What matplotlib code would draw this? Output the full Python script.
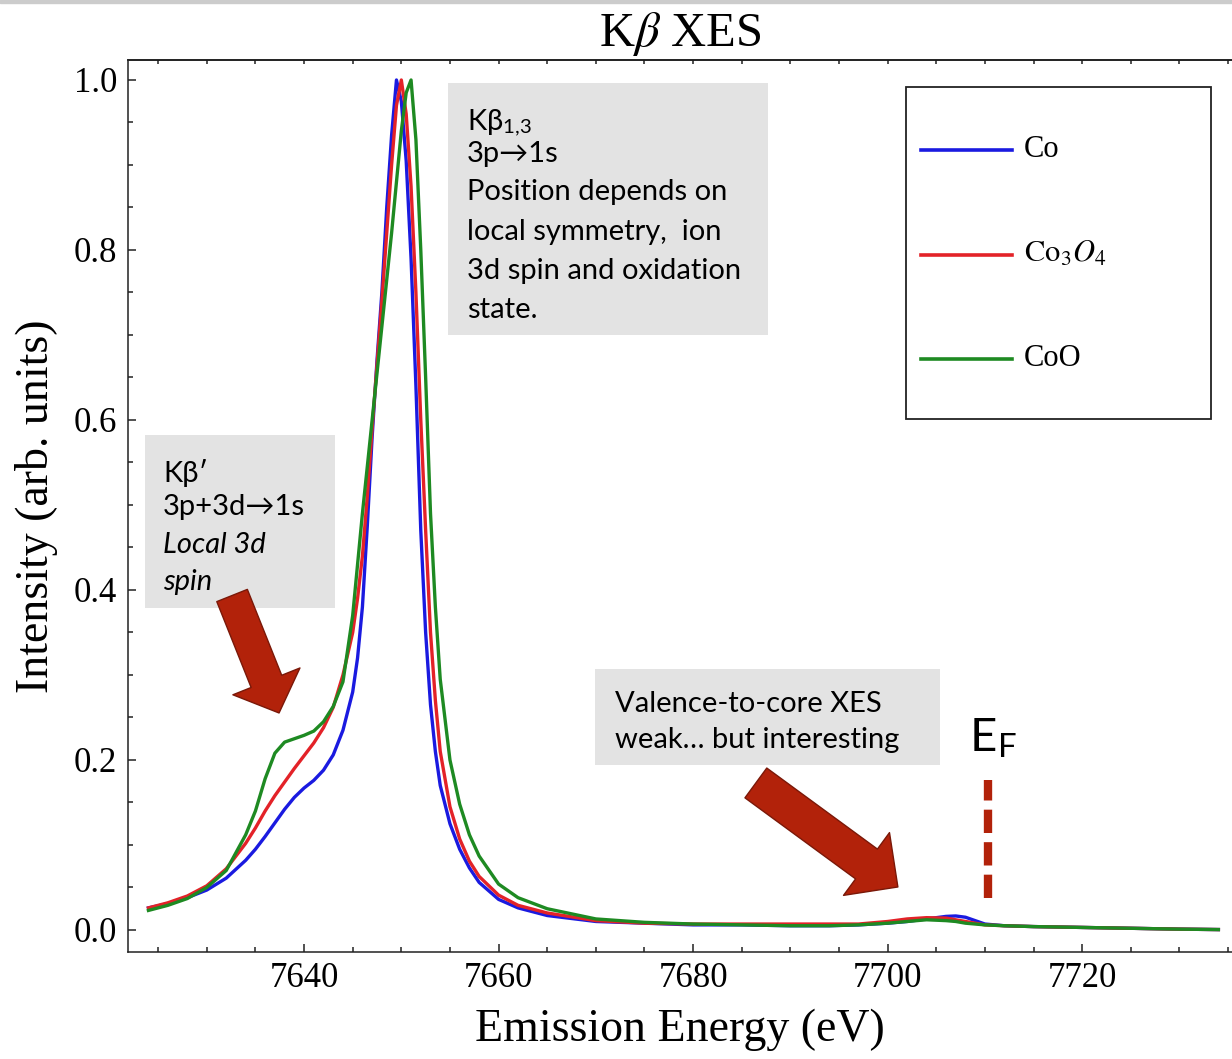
import matplotlib
matplotlib.use('Agg')
import matplotlib.pyplot as plt
from matplotlib.ticker import MultipleLocator
from matplotlib.patches import Rectangle

plt.rcParams['font.family'] = 'Liberation Serif'
plt.rcParams['mathtext.fontset'] = 'stix'
SANS = ['Lato', 'Noto Sans', 'DejaVu Sans']

# emission energy grid (eV) and normalised intensities
energy = [7624, 7626, 7628, 7630, 7632, 7634, 7635, 7636, 7637, 7638, 7639, 7640,
          7641, 7642, 7643, 7644, 7645, 7645.5, 7646, 7646.5, 7647, 7647.5, 7648,
          7648.5, 7649, 7649.5, 7650, 7650.5, 7651, 7651.5, 7652, 7652.5, 7653,
          7653.5, 7654, 7655, 7656, 7657, 7658, 7660, 7662, 7665, 7670, 7675, 7680,
          7685, 7690, 7694, 7697, 7700, 7702, 7704, 7706, 7707, 7708, 7709, 7710,
          7712, 7715, 7720, 7725, 7730, 7734]

co = [0.026, 0.031, 0.038, 0.047, 0.061, 0.082, 0.095, 0.110, 0.126, 0.142, 0.156, 0.167,
      0.176, 0.188, 0.206, 0.235, 0.280, 0.320, 0.380, 0.475, 0.580, 0.670, 0.750,
      0.850, 0.935, 1.000, 0.975, 0.905, 0.790, 0.640, 0.470, 0.350, 0.265,
      0.210, 0.170, 0.125, 0.095, 0.073, 0.056, 0.036, 0.026, 0.017, 0.010, 0.008, 0.006,
      0.006, 0.005, 0.005, 0.006, 0.008, 0.010, 0.013, 0.016, 0.0165, 0.015, 0.011, 0.007,
      0.005, 0.004, 0.003, 0.002, 0.001, 0.0005]

co3o4 = [0.026, 0.032, 0.040, 0.052, 0.072, 0.102, 0.120, 0.140, 0.158, 0.174, 0.190, 0.205,
         0.220, 0.238, 0.262, 0.300, 0.350, 0.390, 0.440, 0.510, 0.590, 0.665, 0.740,
         0.820, 0.900, 0.970, 1.000, 0.960, 0.875, 0.750, 0.600, 0.470, 0.350,
         0.270, 0.210, 0.145, 0.107, 0.081, 0.063, 0.041, 0.029, 0.020, 0.011, 0.008, 0.007,
         0.007, 0.007, 0.007, 0.007, 0.010, 0.013, 0.0145, 0.014, 0.012, 0.010, 0.008, 0.006,
         0.005, 0.004, 0.003, 0.002, 0.001, 0.0005]

coo = [0.023, 0.029, 0.037, 0.050, 0.070, 0.112, 0.140, 0.178, 0.208, 0.221, 0.225, 0.229,
       0.234, 0.245, 0.263, 0.292, 0.370, 0.430, 0.490, 0.545, 0.600, 0.655, 0.710,
       0.765, 0.820, 0.880, 0.940, 0.985, 1.000, 0.930, 0.800, 0.650, 0.490,
       0.380, 0.295, 0.200, 0.148, 0.112, 0.087, 0.054, 0.038, 0.025, 0.013, 0.009, 0.007,
       0.006, 0.005, 0.005, 0.006, 0.008, 0.010, 0.012, 0.011, 0.010, 0.008, 0.007, 0.006,
       0.005, 0.004, 0.003, 0.002, 0.001, 0.0005]

series = [co, co3o4, coo]
labels = ['Co', r'$\mathrm{Co}_3O_4$', 'CoO']
colors = ['#1a1ae0', '#e32228', '#1e8a22']
fermi_energy = 7710.3

fig = plt.figure(figsize=(12.32, 10.59), dpi=100)
fig.patches.append(Rectangle((0, 1 - 3 / 1059), 1, 3 / 1059, transform=fig.transFigure,
                             color='#cccccc', zorder=0))
ax = fig.add_axes([128 / 1232, 1 - 952 / 1059, (1232 - 128) / 1232, (952 - 60) / 1059])

for y, c in zip(series, colors):
    ax.plot(energy, y, color=c, lw=2.4, solid_joinstyle='round', zorder=2)

ax.set_xlim(7621.9, 7735.4)
ax.set_ylim(-0.0259, 1.0235)

ax.xaxis.set_major_locator(MultipleLocator(20))
ax.xaxis.set_minor_locator(MultipleLocator(5))
ax.yaxis.set_major_locator(MultipleLocator(0.2))
ax.yaxis.set_minor_locator(MultipleLocator(0.05))
ax.yaxis.set_major_formatter(lambda v, p: f'{v:.1f}')
ax.tick_params(which='both', direction='in', top=False, right=False, width=1.1,
               color='#222222')
ax.tick_params(which='major', length=6, labelsize=25)
ax.tick_params(which='minor', length=3.6)
ax.tick_params(axis='x', which='major', pad=7)
ax.tick_params(axis='y', which='major', pad=8)
ax.spines['right'].set_visible(False)
for s in ['left', 'bottom', 'top']:
    ax.spines[s].set_linewidth(1.1)
    ax.spines[s].set_color('#222222')

top = ax.secondary_xaxis('top')
top.xaxis.set_major_locator(MultipleLocator(5))
top.tick_params(direction='in', length=3, width=1.1, labeltop=False, color='#222222')
top.spines['top'].set_linewidth(1.1)

ax.set_xlabel('Emission Energy (eV)', fontsize=33, labelpad=10)
ax.set_ylabel('Intensity (arb. units)', fontsize=33, labelpad=11)
ax.set_title(r'K$\beta$ XES', fontsize=35, pad=10)

# legend box drawn by hand to match the wide padding
ax.add_patch(Rectangle((7701.87, 0.6012), 31.35, 0.3906, facecolor='white',
                       edgecolor='#222222', lw=1.3, zorder=3))
for yy, c, lab in zip([0.918, 0.7945, 0.6721], colors, labels):
    ax.plot([7703.4, 7712.8], [yy, yy], color=c, lw=2.6, zorder=4)
    ax.text(7714.0, yy, lab, fontsize=22, va='center', ha='left', zorder=4)

# annotation boxes
box_kw = dict(facecolor='#e3e3e3', edgecolor='none', zorder=3)
ax.add_patch(Rectangle((7654.80, 0.700), 32.89, 0.2965, **box_kw))
ax.add_patch(Rectangle((7623.66, 0.3788), 19.53, 0.2036, **box_kw))
ax.add_patch(Rectangle((7669.91, 0.194), 35.46, 0.113, **box_kw))

txt = dict(family=SANS, fontsize=21, ha='left', va='baseline', zorder=4)
ax.text(7656.75, 0.941, r'Kβ$_{\mathregular{1{,}3}}$', **txt)
ax.text(7656.75, 0.9035, '3p→1s', **txt)
ax.text(7656.75, 0.8588, 'Position depends on', **txt)
ax.text(7656.75, 0.8118, 'local symmetry,  ion', **txt)
ax.text(7656.75, 0.7659, '3d spin and oxidation', **txt)
ax.text(7656.75, 0.720, 'state.', **txt)

ax.text(7625.51, 0.527, 'Kβ′', **txt)
ax.text(7625.51, 0.488, '3p+3d→1s', **txt)
ax.text(7625.51, 0.4435, 'Local 3d', style='italic', **txt)
ax.text(7625.51, 0.400, 'spin', style='italic', **txt)

ax.text(7671.96, 0.2565, 'Valence-to-core XES', **txt)
ax.text(7671.96, 0.214, 'weak… but interesting', **txt)

ax.text(7708.4, 0.2094, r'E$_{\mathregular{F}}$', family=SANS, fontsize=34,
        ha='left', va='baseline')
ax.plot([fermi_energy, fermi_energy], [0.0376, 0.1765], color='#b2220a', lw=6,
        dashes=(2.8, 1.1), solid_capstyle='butt', dash_capstyle='butt', zorder=2)

arrow_kw = dict(arrowstyle='simple', mutation_scale=1, shrinkA=0, shrinkB=0,
                facecolor='#b2220a', edgecolor='#7a1808', lw=1)
ax.annotate('', xy=(7637.43, 0.2553), xytext=(7632.6, 0.3935),
            arrowprops=dict(arrow_kw, arrowstyle='simple,head_length=24.5,head_width=52,tail_width=23.7'),
            zorder=5)
ax.annotate('', xy=(7701.05, 0.0506), xytext=(7686.45, 0.173),
            arrowprops=dict(arrow_kw, arrowstyle='simple,head_length=28,head_width=56,tail_width=26.6'),
            zorder=5)

fig.savefig('out.png', dpi=100)
